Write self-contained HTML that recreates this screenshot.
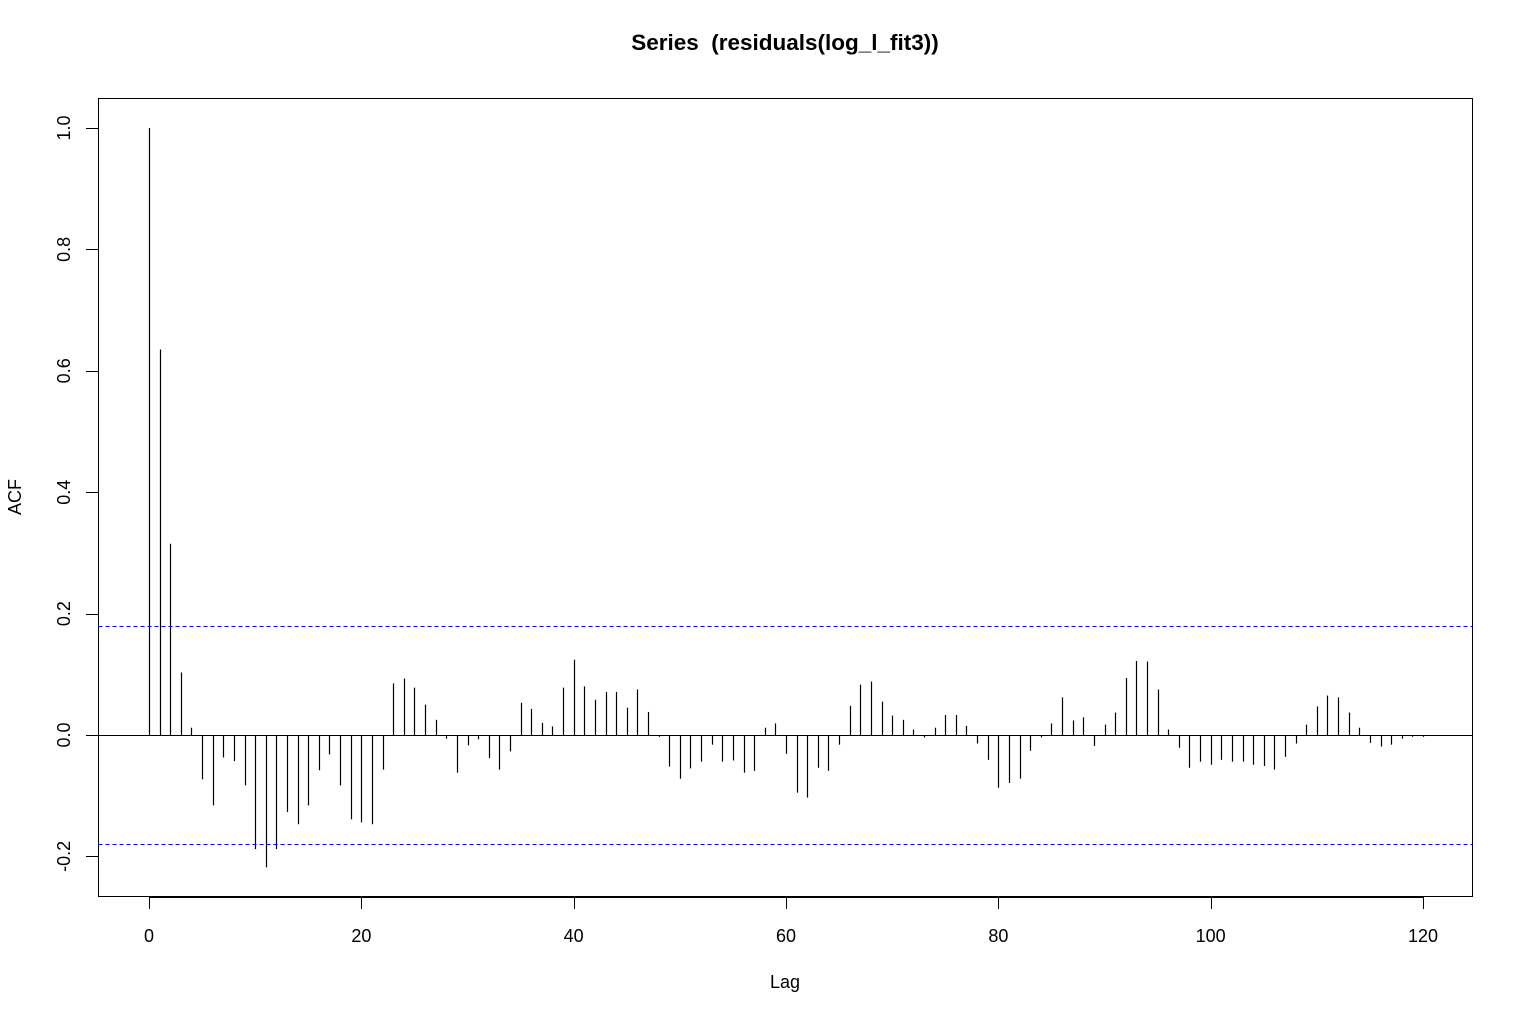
<!DOCTYPE html>
<html><head><meta charset="utf-8"><style>
html,body{margin:0;padding:0;background:#fff;}
svg text{font-family:"Liberation Sans",Arial,sans-serif;fill:#000;}
</style></head><body>
<svg id="chart" width="1524" height="1020" xmlns="http://www.w3.org/2000/svg">
<text x="785" y="50" text-anchor="middle" font-size="22.5" font-weight="bold" style="white-space:pre">Series&#160; (residuals(log_l_fit3))</text>
<rect x="98.5" y="98.5" width="1374" height="798" fill="none" stroke="#000" stroke-width="1"/>
<g id="marks"></g>
<text x="785" y="988" text-anchor="middle" font-size="18">Lag</text>
<text transform="translate(21,497) rotate(-90)" text-anchor="middle" font-size="18">ACF</text>
</svg>
<script>
const lags = [];
for (let i = 0; i <= 120; i++) lags.push(i);
const acfValues = [1.0,0.635,0.315,0.103,0.012,-0.073,-0.116,-0.037,-0.043,-0.083,
-0.188,-0.218,-0.188,-0.127,-0.147,-0.116,-0.058,-0.032,-0.083,-0.139,
-0.144,-0.147,-0.057,0.085,0.093,0.078,0.050,0.025,-0.006,-0.062,
-0.017,-0.007,-0.038,-0.057,-0.027,0.053,0.043,0.020,0.014,0.078,
0.124,0.080,0.058,0.071,0.071,0.045,0.075,0.038,-0.003,-0.052,
-0.072,-0.055,-0.044,-0.016,-0.044,-0.042,-0.062,-0.059,0.012,0.019,
-0.031,-0.095,-0.103,-0.054,-0.059,-0.016,0.048,0.083,0.088,0.055,
0.032,0.025,0.009,-0.004,0.012,0.033,0.033,0.015,-0.014,-0.041,
-0.087,-0.079,-0.072,-0.026,-0.004,0.019,0.062,0.024,0.029,-0.018,
0.017,0.037,0.094,0.122,0.121,0.075,0.009,-0.021,-0.054,-0.044,
-0.049,-0.041,-0.044,-0.044,-0.049,-0.051,-0.057,-0.036,-0.014,0.017,
0.047,0.065,0.062,0.037,0.012,-0.013,-0.019,-0.016,-0.006,-0.003,-0.003];
const confBound = [0.179, -0.179];
const xTicks = [0,20,40,60,80,100,120];
const yTicks = [-0.2,0.0,0.2,0.4,0.6,0.8,1.0];

const NS = "http://www.w3.org/2000/svg";
const X = v => 149 + v * (1423 - 149) / 120;
const Y = v => 735 - v * 607;
const px = v => Math.round(v) + 0.5;
const g = document.getElementById('marks');
function mk(tag, attrs, parent) {
  const e = document.createElementNS(NS, tag);
  for (const k in attrs) e.setAttribute(k, attrs[k]);
  (parent || g).appendChild(e);
  return e;
}
let z = mk('line', {x1:98.5, x2:1472.5, y1:px(Y(0)), y2:px(Y(0)), stroke:'#000', 'stroke-width':1});


lags.forEach((l, i) => {
  const b = mk('line', {x1:px(X(l)), x2:px(X(l)), y1:px(Y(0)), y2:Y(acfValues[i]), stroke:'#000', 'stroke-width':1.2});
  
  
});
confBound.forEach((c, i) => {
  const d = mk('line', {x1:98.5, x2:1472.5, y1:px(Y(c)), y2:px(Y(c)), stroke:'#0000ff', 'stroke-width':1, 'stroke-dasharray':'4,3'});
  
  
});
const xa = mk('line', {x1:px(X(0)), x2:px(X(120)), y1:897.5, y2:897.5, stroke:'#000'});


xTicks.forEach(t => {
  const tk = mk('line', {x1:px(X(t)), x2:px(X(t)), y1:897, y2:909, stroke:'#000'});
  
  
  const tx = mk('text', {x:X(t), y:942, 'text-anchor':'middle', 'font-size':18});
  tx.textContent = t;
  
  
});
yTicks.forEach(t => {
  const tk = mk('line', {x1:86, x2:98, y1:px(Y(t)), y2:px(Y(t)), stroke:'#000'});
  
  
  const tx = mk('text', {transform:'translate(70,' + Y(t) + ') rotate(-90)', 'text-anchor':'middle', 'font-size':18});
  tx.textContent = t.toFixed(1);
  
  
});
</script>
</body></html>
